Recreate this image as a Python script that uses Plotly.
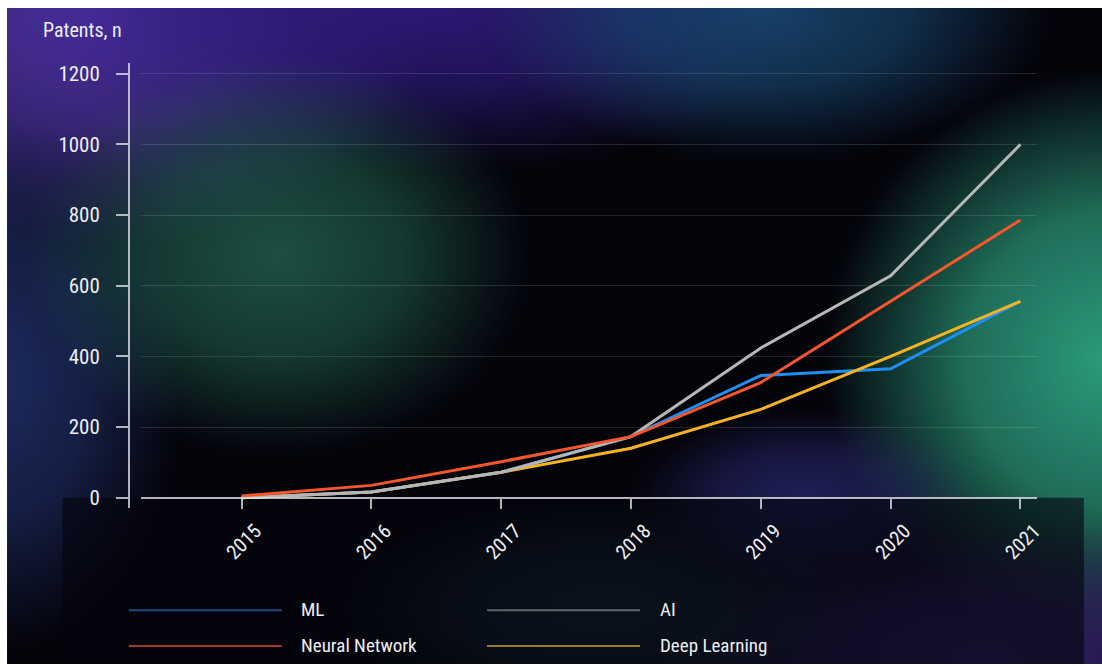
import base64
import plotly.graph_objects as go

# ---------------- data ----------------
years = [2015, 2016, 2017, 2018, 2019, 2020, 2021]
ml = [0, 16, 72, 173, 346, 365, 556]
ai = [0, 16, 72, 173, 424, 628, 1000]
neural_network = [5, 35, 102, 173, 326, 556, 786]
deep_learning = [0, 16, 72, 140, 250, 400, 556]

series_names = ["ML", "AI", "Neural Network", "Deep Learning"]
y_tick_values = [0, 200, 400, 600, 800, 1000, 1200]
y_title = "Patents, n"

# ---------------- styles ----------------
DW, DH = 1102, 666          # design space (reference pixels)
W, H = 1117, 666            # figure size
FONT = "Liberation Sans Narrow, Roboto Condensed, DejaVu Sans Condensed, Arial Narrow, sans-serif"
TEXT = "#eeeef2"
line_colors = {"ML": "#1f8ff5", "AI": "#b6b6b8", "Neural Network": "#f5562b", "Deep Learning": "#f5b324"}
legend_colors = {"ML": "#1d4b86", "AI": "#5f6468", "Neural Network": "#a33a28", "Deep Learning": "#9c7b2b"}
values = {"ML": ml, "AI": ai, "Neural Network": neural_network, "Deep Learning": deep_learning}
draw_order = ["ML", "Deep Learning", "AI", "Neural Network"]


def fx(px):
    return px / DW


def fy(py):
    return 1 - py / DH


# plot geometry (design pixels)
Y_AXIS_X = 128
PLOT_LEFT, PLOT_RIGHT = 140, 1030
PLOT_TOP, PLOT_BOTTOM = 62, 509
ZERO_Y, TOP_TICK_Y = 499, 73
X_FIRST, X_STEP = 240, 129
px_per_unit = (ZERO_Y - TOP_TICK_Y) / 1200.0
y_range = [(ZERO_Y - PLOT_BOTTOM) / px_per_unit, (ZERO_Y - PLOT_TOP) / px_per_unit]
x_range = [years[0] - (X_FIRST - PLOT_LEFT) / X_STEP,
           years[0] + (PLOT_RIGHT - X_FIRST) / X_STEP]

# ---------------- background (svg) ----------------
blobs = [
    # cx, cy, rx, ry, color, opacity
    (90, 10, 340, 240, "#5034a8", 0.95),
    (420, 0, 420, 170, "#2e1a7c", 0.95),
    (760, 10, 280, 150, "#18466f", 0.9),
    (0, 380, 180, 270, "#20306a", 0.85),
    (275, 255, 250, 200, "#1f5749", 0.9),
    (1100, 360, 280, 290, "#2b9a7b", 1.0),
    (800, 500, 170, 90, "#2b2a78", 0.7),
    (980, 660, 330, 140, "#36246e", 0.9),
    (600, 610, 260, 110, "#183848", 0.7),
]
defs = []
shapes_svg = []
for i, (cx, cy, rx, ry, col, op) in enumerate(blobs):
    defs.append(
        f'<radialGradient id="g{i}"><stop offset="0" stop-color="{col}" stop-opacity="{op}"/>'
        f'<stop offset="0.5" stop-color="{col}" stop-opacity="{op * 0.7:.3f}"/>'
        f'<stop offset="1" stop-color="{col}" stop-opacity="0"/></radialGradient>'
    )
    shapes_svg.append(f'<ellipse cx="{cx}" cy="{cy}" rx="{rx}" ry="{ry}" fill="url(#g{i})"/>')
svg = (
    f'<svg xmlns="http://www.w3.org/2000/svg" width="{DW}" height="{DH}" viewBox="0 0 {DW} {DH}" preserveAspectRatio="none">'
    f'<defs>{"".join(defs)}<clipPath id="c"><rect x="7" y="7" width="{DW - 7}" height="{DH - 7}"/></clipPath></defs>'
    f'<rect x="0" y="0" width="{DW}" height="{DH}" fill="#ffffff"/>'
    f'<g clip-path="url(#c)"><rect x="7" y="7" width="{DW - 7}" height="{DH - 7}" fill="#04040b"/>'
    f'{"".join(shapes_svg)}'
    f'<rect x="62" y="{ZERO_Y}" width="1015" height="{DH - ZERO_Y}" fill="#05050d" fill-opacity="0.62"/>'
    f'</g></svg>'
)
svg_uri = "data:image/svg+xml;base64," + base64.b64encode(svg.encode()).decode()

# ---------------- figure ----------------
fig = go.Figure()
for name in draw_order:
    fig.add_trace(go.Scatter(
        x=years, y=values[name], name=name, mode="lines",
        line=dict(color=line_colors[name], width=3),
        showlegend=False, hoverinfo="x+y+name",
    ))

axis_line_col = "rgba(225,225,232,0.78)"
grid_col = "rgba(255,255,255,0.12)"

fig.update_layout(
    width=W, height=H, autosize=False,
    margin=dict(l=0, r=0, t=0, b=0),
    paper_bgcolor="#ffffff",
    plot_bgcolor="rgba(0,0,0,0)",
    font=dict(family=FONT, color=TEXT, size=20),
    showlegend=False,
    images=[dict(source=svg_uri, xref="paper", yref="paper", x=0, y=1,
                 sizex=1, sizey=1, sizing="stretch", layer="below")],
    xaxis=dict(
        domain=[fx(PLOT_LEFT), fx(PLOT_RIGHT)], range=x_range,
        anchor="free", position=fy(ZERO_Y),
        tickvals=years, ticktext=[str(y) for y in years],
        tickangle=-45, ticks="outside", ticklen=10, tickwidth=1.5, tickcolor=axis_line_col,
        showline=True, linecolor=axis_line_col, linewidth=1.5,
        showgrid=False, zeroline=False,
        tickfont=dict(family=FONT, size=20, color=TEXT),
        ticklabelshift=14, ticklabelstandoff=3,
    ),
    xaxis3=dict(
        overlaying="x", matches="x", anchor="free", position=fy(ZERO_Y),
        tickvals=years, ticks="inside", ticklen=12, tickwidth=1.5, tickcolor=axis_line_col,
        showticklabels=False, showline=False, showgrid=False, zeroline=False,
    ),
    yaxis=dict(
        domain=[fy(PLOT_BOTTOM), fy(PLOT_TOP)], range=y_range,
        anchor="free", position=fx(Y_AXIS_X),
        tickvals=y_tick_values, ticks="outside", ticklen=12, tickwidth=1.5, tickcolor=axis_line_col,
        showline=True, linecolor=axis_line_col, linewidth=1.5,
        showgrid=True, gridcolor=grid_col, gridwidth=1, zeroline=False,
        tickfont=dict(family=FONT, size=21, color=TEXT),
        ticklabelstandoff=12,
    ),
    yaxis2=dict(
        overlaying="y", matches="y", anchor="free", position=fx(Y_AXIS_X),
        tickvals=y_tick_values, ticks="inside", ticklen=12, tickwidth=1.5, tickcolor=axis_line_col,
        showticklabels=False, showline=False, showgrid=False, zeroline=False,
    ),
)

# axis title
fig.add_annotation(text=y_title, xref="paper", yref="paper", x=fx(41), y=fy(29),
                   xanchor="left", yanchor="middle", showarrow=False,
                   font=dict(family=FONT, size=20, color=TEXT))

# legend: 2 columns x 2 rows
legend_cols = [(128, 280, 297), (484, 636, 654)]
legend_rows = [612, 648]
legend_layout = [("ML", 0, 0), ("AI", 1, 0), ("Neural Network", 0, 1), ("Deep Learning", 1, 1)]
for name, c, r in legend_layout:
    x0, x1, xt = legend_cols[c]
    yy = legend_rows[r]
    fig.add_shape(type="line", xref="paper", yref="paper",
                  x0=fx(x0), x1=fx(x1), y0=fy(yy), y1=fy(yy),
                  line=dict(color=legend_colors[name], width=2))
    fig.add_annotation(text=name, xref="paper", yref="paper", x=fx(xt), y=fy(yy - 1),
                       xanchor="left", yanchor="middle", showarrow=False,
                       font=dict(family=FONT, size=19, color=TEXT))

fig.write_html("out.html", config={"responsive": False, "displayModeBar": False})
